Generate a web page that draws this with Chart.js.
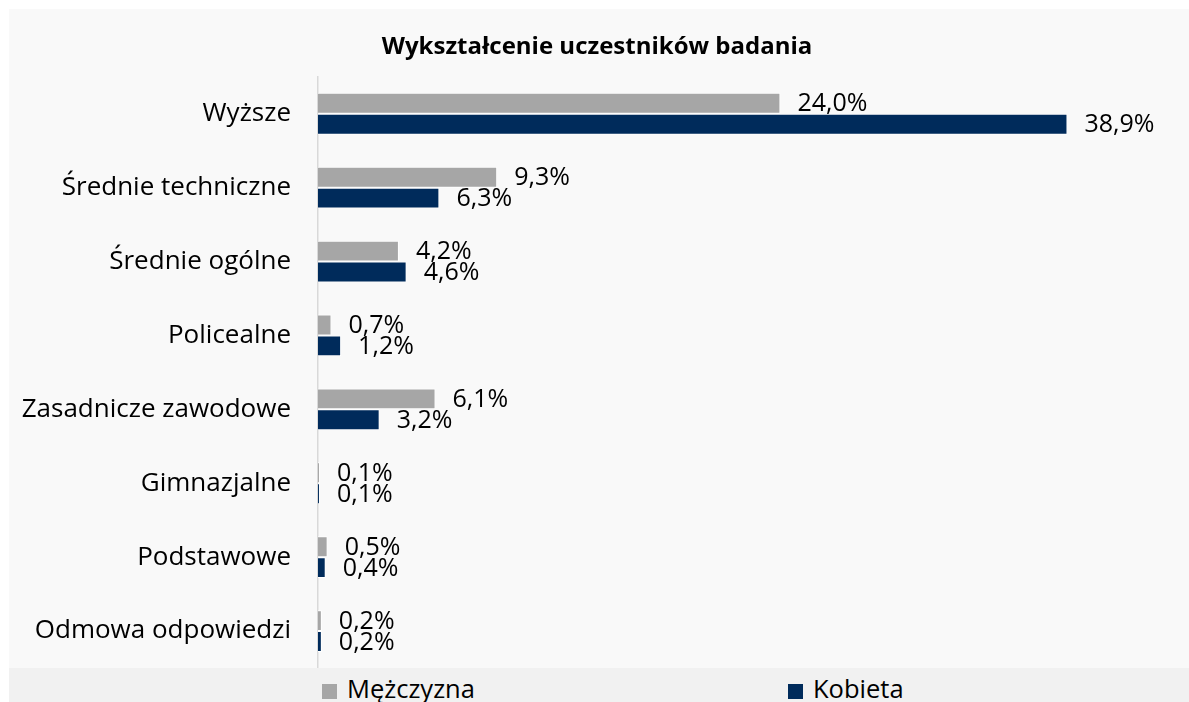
<!DOCTYPE html>
<html lang="pl">
<head>
<meta charset="utf-8">
<title>Wykształcenie uczestników badania</title>
<script src="https://cdn.jsdelivr.net/npm/chart.js@4/dist/chart.umd.min.js"></script>
<style>
  html, body { margin: 0; padding: 0; background: #ffffff; overflow: hidden; }
  body { width: 1189px; height: 702px; position: relative; font-family: "Open Sans", sans-serif; }
  #wrap { position: absolute; left: 9px; top: 9px; width: 1204px; height: 660px; background: #f9f9f9; }
  #legend { position: absolute; left: 9px; top: 668px; width: 1204px; height: 44px; background: #f1f1f1; }
  .item { position: absolute; top: 4px; font-size: 25.5px; color: #000; line-height: 32px; white-space: nowrap; }
  .box { display: inline-block; width: 15px; height: 15px; margin-right: 10px; vertical-align: -1px; }
</style>
</head>
<body>
<div id="wrap"><canvas id="chart" width="1204" height="660"></canvas></div>
<div id="legend"></div>
<script>
const categories = [
  'Wyższe',
  'Średnie techniczne',
  'Średnie ogólne',
  'Policealne',
  'Zasadnicze zawodowe',
  'Gimnazjalne',
  'Podstawowe',
  'Odmowa odpowiedzi'
];
const seriesNames = ['Mężczyzna', 'Kobieta'];
const seriesColors = ['#a6a6a6', '#002b5b'];
const menValues = [24.0, 9.3, 4.2, 0.7, 6.1, 0.1, 0.5, 0.2];
const womenValues = [38.9, 6.3, 4.6, 1.2, 3.2, 0.1, 0.4, 0.2];
const chartTitle = 'Wykształcenie uczestników badania';

const fmt = v => v.toFixed(1).replace('.', ',') + '%';

// etykiety danych po prawej stronie słupków
const valueLabels = {
  id: 'valueLabels',
  afterDatasetsDraw(chart) {
    const ctx = chart.ctx;
    ctx.save();
    ctx.font = '25px "Open Sans", sans-serif';
    ctx.fillStyle = '#000000';
    ctx.textAlign = 'left';
    ctx.textBaseline = 'middle';
    chart.data.datasets.forEach((ds, i) => {
      chart.getDatasetMeta(i).data.forEach((bar, j) => {
        ctx.fillText(fmt(ds.data[j]), bar.x + 17, bar.y + 1);
      });
    });
    ctx.restore();
  }
};

new Chart(document.getElementById('chart'), {
  type: 'bar',
  data: {
    labels: categories,
    datasets: [
      { label: seriesNames[0], data: menValues, backgroundColor: seriesColors[0] },
      { label: seriesNames[1], data: womenValues, backgroundColor: seriesColors[1] }
    ]
  },
  options: {
    indexAxis: 'y',
    responsive: false,
    animation: false,
    layout: { padding: { top: 0, right: 28, bottom: 1, left: 0 } },
    datasets: {
      bar: {
        categoryPercentage: 0.565,
        barPercentage: 1.0,
        borderColor: '#ffffff',
        borderWidth: 1
      }
    },
    scales: {
      x: { display: false, min: 0, max: 45 },
      y: {
        grid: { display: false, drawTicks: false },
        border: { display: true, color: '#d9d9d9', width: 1.5 },
        ticks: { color: '#000000', padding: 27, font: { family: 'Open Sans', size: 26 } },
        afterFit(scale) {
          scale.width = 309;
          scale.paddingTop = 0;
          scale.paddingBottom = 0;
        }
      }
    },
    plugins: {
      legend: { display: false },
      tooltip: { enabled: false },
      title: {
        display: true,
        text: chartTitle,
        color: '#000000',
        font: { family: 'Open Sans', size: 24, weight: 'bold' },
        padding: { top: 24, bottom: 15 }
      }
    }
  },
  plugins: [valueLabels]
});

// legenda w HTML, pozycje jak w oryginale
const legendLeft = [313, 779];
const legend = document.getElementById('legend');
seriesNames.forEach((name, i) => {
  const item = document.createElement('div');
  item.className = 'item';
  item.style.left = legendLeft[i] + 'px';
  const box = document.createElement('span');
  box.className = 'box';
  box.style.background = seriesColors[i];
  item.appendChild(box);
  item.appendChild(document.createTextNode(name));
  legend.appendChild(item);
});
</script>
</body>
</html>
